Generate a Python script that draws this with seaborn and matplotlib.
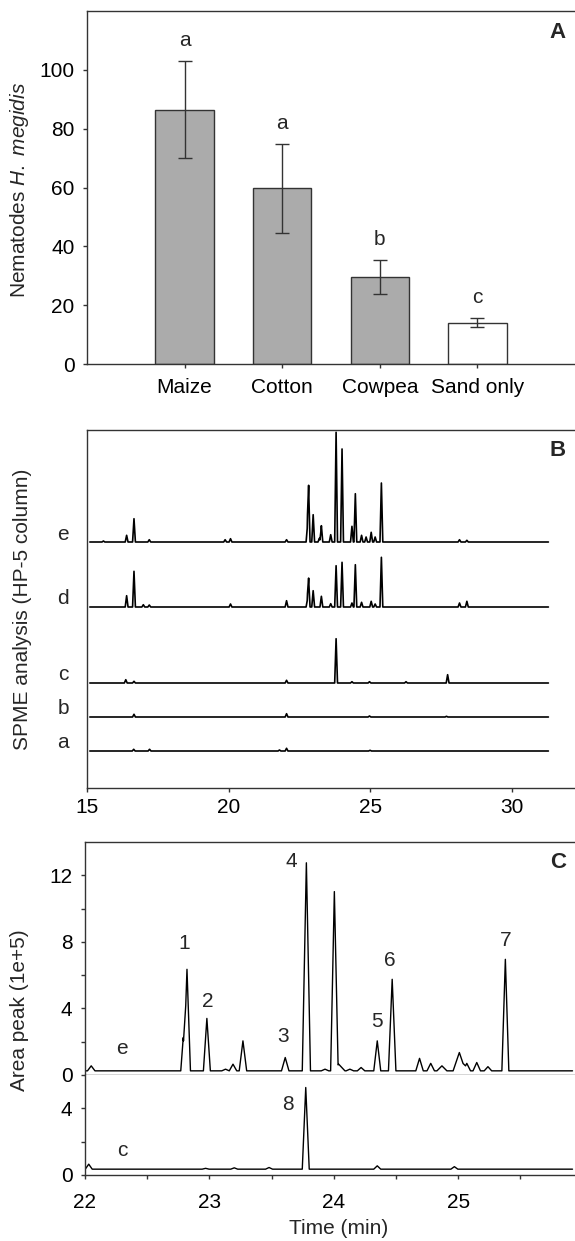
import numpy as np
import pandas as pd
import matplotlib
matplotlib.use("Agg")
import matplotlib.pyplot as plt
import matplotlib.transforms as mtransforms
import seaborn as sns

# ---- panel A : nematode counts ----
crops = ["Maize", "Cotton", "Cowpea", "Sand only"]
nematodes = [86.5, 59.7, 29.5, 14.0]
err_low = [70.0, 44.7, 23.7, 12.5]
err_high = [103.0, 74.7, 35.2, 15.5]
letters = ["a", "a", "b", "c"]
bar_colors = ["#ababab", "#ababab", "#ababab", "#ffffff"]

# ---- panel B : SPME chromatograms (retention time, peak height above baseline) ----
b_names = ["a", "b", "c", "d", "e"]
b_offsets = [37, 71, 105, 181, 246]
b_a_rt = [16.65, 17.21, 21.80, 22.05, 25.00]
b_a_h = [1.7, 1.7, 1.0, 2.7, 0.7]
b_b_rt = [16.66, 22.05, 24.98, 27.70]
b_b_h = [2.7, 3.3, 1.0, 0.7]
b_c_rt = [16.37, 16.66, 22.05, 23.80, 24.36, 24.98, 26.27, 27.74]
b_c_h = [3.3, 1.7, 2.7, 44.3, 1.3, 1.3, 1.3, 8.3]
b_d_rt = [16.40, 16.66, 16.99, 17.20, 20.07, 22.05, 22.79, 22.83, 22.99, 23.28,
          23.61, 23.80, 24.01, 24.36, 24.48, 24.70, 25.04, 25.18, 25.40, 28.16, 28.42]
b_d_h = [11.3, 35.7, 2.3, 2.0, 3.0, 6.3, 8.0, 27.3, 16.3, 10.7,
         3.3, 41.3, 44.7, 4.0, 42.3, 4.7, 5.7, 3.0, 49.7, 4.0, 5.7]
b_e_rt = [15.58, 16.40, 16.66, 17.20, 19.88, 20.07, 22.05, 22.79, 22.83, 22.99, 23.21,
          23.28, 23.61, 23.80, 24.01, 24.36, 24.48, 24.70, 24.86, 25.04, 25.18, 25.40,
          28.16, 28.42]
b_e_h = [1.0, 6.7, 23.3, 2.3, 2.3, 3.3, 2.3, 17.0, 53.3, 27.3, 3.7,
         16.3, 7.3, 109.7, 93.0, 15.7, 48.3, 6.7, 5.0, 9.7, 5.0, 59.0,
         2.3, 1.7]
b_rts = [b_a_rt, b_b_rt, b_c_rt, b_d_rt, b_e_rt]
b_hs = [b_a_h, b_b_h, b_c_h, b_d_h, b_e_h]

# ---- panel C : zoom of traces e and c (area peak, 1e+5) ----
c_e_rt = [22.05, 22.79, 22.82, 22.98, 23.13, 23.19, 23.27, 23.61, 23.78, 23.93,
          24.005, 24.04, 24.13, 24.22, 24.35, 24.47, 24.69, 24.78, 24.87, 25.01,
          25.07, 25.15, 25.24, 25.38]
c_e_h = [0.3, 2.0, 6.1, 3.15, 0.1, 0.4, 1.8, 0.8, 12.5, 0.1,
         10.65, 0.4, 0.1, 0.2, 1.8, 5.5, 0.75, 0.45, 0.3, 1.1,
         0.45, 0.5, 0.25, 6.7]
c_e_w = [0.03, 0.02, 0.028, 0.028, 0.03, 0.03, 0.03, 0.03, 0.033, 0.03,
         0.03, 0.05, 0.03, 0.03, 0.028, 0.03, 0.03, 0.03, 0.04, 0.05,
         0.03, 0.03, 0.03, 0.028]
c_c_rt = [22.03, 22.97, 23.20, 23.48, 23.775, 24.35, 24.97]
c_c_h = [0.3, 0.05, 0.08, 0.1, 4.9, 0.2, 0.15]
peak_ids = ["1", "2", "3", "4", "5", "6", "7"]
peak_id_rt = [22.80, 22.99, 23.59, 23.66, 24.35, 24.45, 25.38]
peak_id_y = [7.9, 4.4, 2.3, 12.8, 3.2, 6.9, 8.1]


def trace(rt, h, w, base, t0, t1):
    # piecewise-linear chromatogram built from the peak table
    rt = np.asarray(rt, float)
    h = np.asarray(h, float)
    w = np.broadcast_to(np.asarray(w, float), rt.shape)
    knots = np.concatenate([[t0, t1], rt, rt - w, rt + w])
    knots = np.unique(knots[(knots >= t0) & (knots <= t1)])
    y = np.full_like(knots, base)
    for r, hh, ww in zip(rt, h, w):
        y += hh * np.clip(1 - np.abs(knots - r) / ww, 0, None)
    return pd.DataFrame({"t": knots, "y": y})


sns.set_theme(style="ticks")
plt.rcParams["font.family"] = ["Liberation Sans", "DejaVu Sans"]
plt.rcParams["font.size"] = 15
plt.rcParams["axes.edgecolor"] = "#333333"
plt.rcParams["axes.linewidth"] = 1.0
plt.rcParams["mathtext.fontset"] = "custom"
plt.rcParams["mathtext.rm"] = "Liberation Sans"
plt.rcParams["mathtext.it"] = "Liberation Sans:italic"

W, H = 575, 1241
fig = plt.figure(figsize=(W / 100, H / 100), dpi=100)


def box(left, top, bottom, right=W):
    return [left / W, 1 - bottom / H, (right - left) / W, (bottom - top) / H]


tick_kw = dict(length=3, width=1, color="#333333", labelsize=15, labelcolor="black")

# ===== A =====
axA = fig.add_axes(box(87, 11, 364))
dfa = pd.DataFrame({"crop": crops, "n": nematodes})
sns.barplot(data=dfa, x="crop", y="n", hue="crop", palette=dict(zip(crops, bar_colors)),
            saturation=1, width=0.6, edgecolor="#333333", linewidth=1, legend=False, ax=axA)
nem = np.array(nematodes)
axA.errorbar(range(len(crops)), nem, yerr=[nem - np.array(err_low), np.array(err_high) - nem],
             fmt="none", ecolor="#333333", elinewidth=1, capsize=5, capthick=1)
for i, (lt, hi) in enumerate(zip(letters, err_high)):
    axA.text(i, hi + 7, lt, ha="center", va="center", fontsize=15)
axA.set_xlim(-1, 4)
axA.set_ylim(0, 120)
axA.set_yticks([0, 20, 40, 60, 80, 100])
axA.set_xlabel("")
axA.set_ylabel("")
axA.tick_params(axis="y", pad=6, **tick_kw)
axA.tick_params(axis="x", pad=7, **tick_kw)
sns.despine(ax=axA, top=False, right=True)
fig.text(558 / W, 1 - 33 / H, "A", ha="center", va="center", fontsize=16, fontweight="bold")
fig.text(20 / W, 1 - 190 / H, "Nematodes $\\it{H.\\ megidis}$", rotation=90,
         ha="center", va="center", fontsize=15)

# ===== B =====
axB = fig.add_axes(box(87, 430, 788))
lab_tr = mtransforms.blended_transform_factory(axB.transAxes, axB.transData)
for name, off, rt, h in zip(b_names, b_offsets, b_rts, b_hs):
    df = trace(rt, h, 0.05, off, 15.1, 31.3)
    sns.lineplot(data=df, x="t", y="y", ax=axB, color="black", lw=1.2,
                 estimator=None, sort=False)
    axB.text(-0.049, off + 8, name, transform=lab_tr, ha="center", va="center", fontsize=15)
axB.set_xlim(15, 32.24)
axB.set_ylim(0, 358)
axB.set_xticks([15, 20, 25, 30])
axB.set_yticks([])
axB.set_xlabel("")
axB.set_ylabel("")
axB.tick_params(axis="x", pad=4, **tick_kw)
sns.despine(ax=axB, top=False, right=True)
fig.text(558 / W, 1 - 450 / H, "B", ha="center", va="center", fontsize=16, fontweight="bold")
fig.text(23 / W, 1 - 609 / H, "SPME analysis (HP-5 column)", rotation=90,
         ha="center", va="center", fontsize=15)

# ===== C =====
axC1 = fig.add_axes(box(85, 842, 1075))
axC2 = fig.add_axes(box(85, 1075, 1175))
sns.lineplot(data=trace(c_e_rt, c_e_h, c_e_w, 0.25, 22.0, 25.92), x="t", y="y", ax=axC1,
             color="black", lw=1.0, estimator=None, sort=False)
sns.lineplot(data=trace(c_c_rt, c_c_h, 0.028, 0.35, 22.0, 25.92), x="t", y="y", ax=axC2,
             color="black", lw=1.0, estimator=None, sort=False)
for lab, t, y in zip(peak_ids, peak_id_rt, peak_id_y):
    axC1.text(t, y, lab, ha="center", va="center", fontsize=15)
axC1.text(22.30, 1.6, "e", ha="center", va="center", fontsize=15)
axC2.text(22.30, 1.5, "c", ha="center", va="center", fontsize=15)
axC2.text(23.63, 4.2, "8", ha="center", va="center", fontsize=15)

for ax in (axC1, axC2):
    ax.set_xlim(22, 25.94)
    ax.set_xlabel("")
    ax.set_ylabel("")
    ax.tick_params(axis="both", which="both", pad=6, **tick_kw)
axC1.set_ylim(0, 14)
axC1.set_yticks([0, 4, 8, 12])
axC1.set_yticks([2, 6, 10], minor=True)
axC1.set_xticks([])
sns.despine(ax=axC1, top=False, right=True)
axC2.set_ylim(0, 6)
axC2.set_yticks([0, 4])
axC2.set_yticks([2], minor=True)
axC2.set_xticks([22, 23, 24, 25])
axC2.set_xticks([22.5, 23.5, 24.5, 25.5], minor=True)
axC2.tick_params(axis="x", which="both", pad=10)
sns.despine(ax=axC2, top=True, right=True)
fig.text(558 / W, 1 - 862 / H, "C", ha="center", va="center", fontsize=16, fontweight="bold")
fig.text(20 / W, 1 - 1010 / H, "Area peak (1e+5)", rotation=90,
         ha="center", va="center", fontsize=15)
fig.text(339 / W, 1 - 1228 / H, "Time (min)", ha="center", va="center", fontsize=15)

fig.savefig("out.png", dpi=100)
